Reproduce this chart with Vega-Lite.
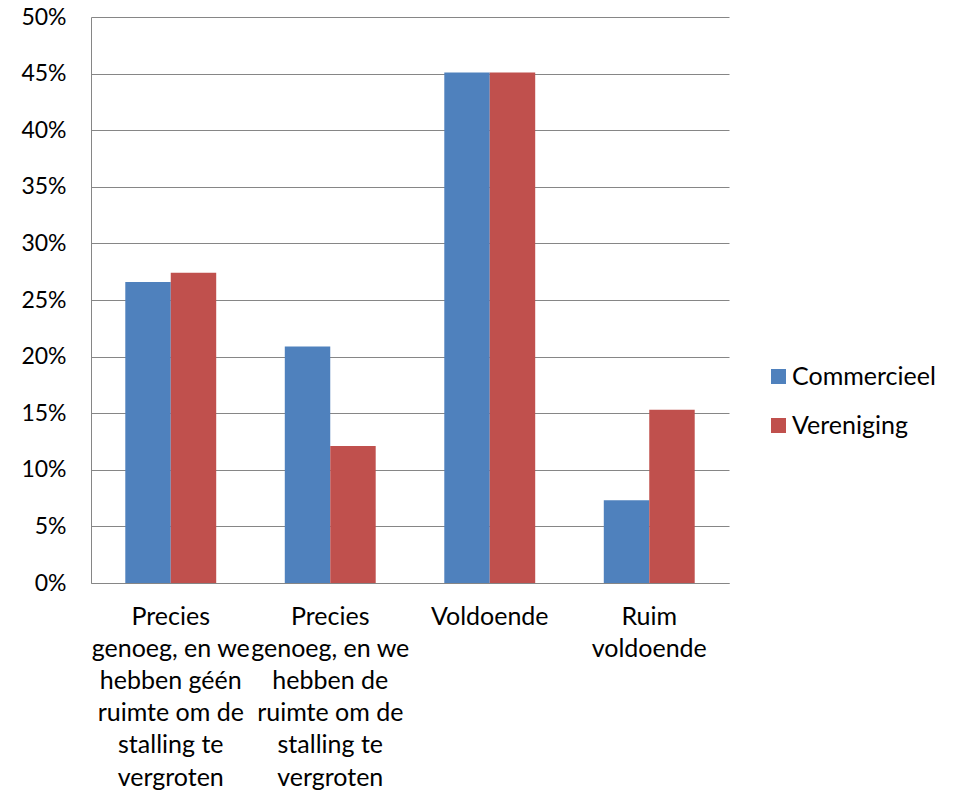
{
  "$schema": "https://vega.github.io/schema/vega-lite/v6.json",
  "autosize": "none",
  "width": 638,
  "height": 566,
  "padding": {"left": 91, "top": 17, "right": 231, "bottom": 210},
  "background": "white",
  "config": {
    "font": "Lato",
    "view": {"stroke": null},
    "axis": {"labelFont": "Lato", "labelColor": "#000000", "labelFontSize": 23, "domainColor": "#868686", "gridColor": "#868686", "tickColor": "#868686"}
  },
  "data": {
    "values": [
      {"cat": "Precies|genoeg, en we|hebben géén|ruimte om de|stalling te|vergroten", "series": "Commercieel", "value": 0.266},
      {"cat": "Precies|genoeg, en we|hebben géén|ruimte om de|stalling te|vergroten", "series": "Vereniging", "value": 0.274},
      {"cat": "Precies|genoeg, en we|hebben de|ruimte om de|stalling te|vergroten", "series": "Commercieel", "value": 0.209},
      {"cat": "Precies|genoeg, en we|hebben de|ruimte om de|stalling te|vergroten", "series": "Vereniging", "value": 0.121},
      {"cat": "Voldoende", "series": "Commercieel", "value": 0.451},
      {"cat": "Voldoende", "series": "Vereniging", "value": 0.451},
      {"cat": "Ruim|voldoende", "series": "Commercieel", "value": 0.073},
      {"cat": "Ruim|voldoende", "series": "Vereniging", "value": 0.153}
    ]
  },
  "mark": {"type": "bar"},
  "encoding": {
    "x": {
      "field": "cat", "type": "nominal", "sort": null,
      "scale": {"paddingInner": 0.43, "paddingOuter": 0.215},
      "axis": {"title": null, "labelAngle": 0, "labelExpr": "split(datum.label, '|')", "labelFontSize": 25, "labelLineHeight": 32.2, "labelPadding": 21, "ticks": false, "domainWidth": 1, "labelBaseline": "top"}
    },
    "xOffset": {"field": "series", "type": "nominal", "scale": {"paddingInner": 0, "paddingOuter": 0}},
    "y": {
      "field": "value", "type": "quantitative",
      "scale": {"domain": [0, 0.5], "nice": false},
      "axis": {"title": null, "format": ".0%", "values": [0, 0.05, 0.1, 0.15, 0.2, 0.25, 0.3, 0.35, 0.4, 0.45, 0.5], "ticks": false, "labelPadding": 25, "grid": true, "gridWidth": 1, "domainWidth": 1}
    },
    "color": {
      "field": "series", "type": "nominal",
      "scale": {"domain": ["Commercieel", "Vereniging"], "range": ["#4F81BD", "#C0504D"]},
      "legend": {"title": null, "orient": "none", "legendX": 675, "legendY": 347, "symbolType": "square", "symbolSize": 225, "symbolStrokeWidth": 0, "labelFontSize": 25, "labelFont": "Lato", "labelColor": "#000000", "labelOffset": 1, "rowPadding": 23}
    }
  }
}
